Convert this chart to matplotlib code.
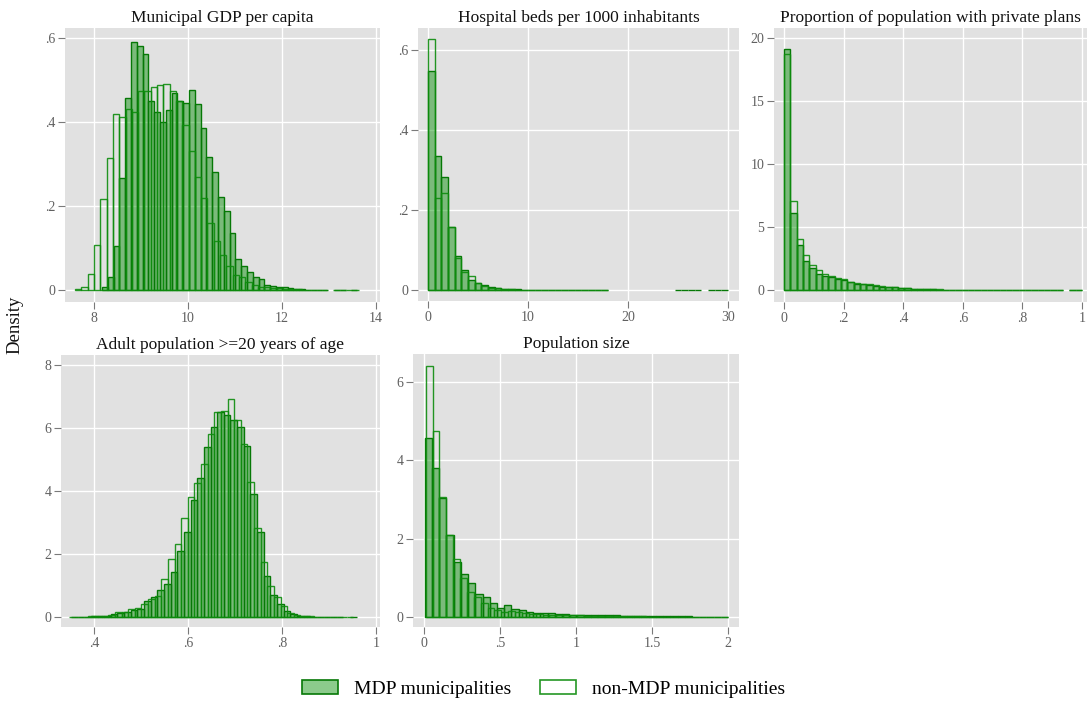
import numpy as np
import matplotlib
matplotlib.use("Agg")
import matplotlib.pyplot as plt
from matplotlib.patches import Patch

plt.rcParams["font.family"] = ["Liberation Serif", "DejaVu Serif"]

nan = np.nan

# ---- histogram densities ----
# each series: (first bin edge, last bin edge), bar heights

# Municipal GDP per capita
gdp_mdp_range = (8.17, 13.60)
gdp_mdp = [0.008, 0.032, 0.105, 0.267, 0.457, 0.590, 0.581, 0.561, 0.450, 0.423,
           0.400, 0.428, 0.470, 0.450, 0.445, 0.477, 0.443, 0.386, 0.316, 0.280,
           0.222, 0.187, 0.135, 0.075, 0.058, 0.044, 0.032, 0.025, 0.013, 0.010,
           0.008, 0.006, 0.004, 0.003, 0.002, 0.001, 0.001, 0.0, 0.0, nan,
           0.0, 0.0, nan, 0.0]
gdp_non_range = (7.60, 13.63)
gdp_non = [0.002, 0.008, 0.037, 0.107, 0.217, 0.315, 0.418, 0.412, 0.430, 0.425,
           0.473, 0.475, 0.483, 0.489, 0.490, 0.475, 0.450, 0.393, 0.331, 0.268,
           0.220, 0.160, 0.117, 0.083, 0.058, 0.036, 0.030, 0.020, 0.012, 0.008,
           0.006, 0.005, 0.004, 0.003, 0.002, 0.002, 0.001, 0.001, 0.0, 0.0,
           nan, 0.0, 0.0, 0.0, 0.0]

# Hospital beds per 1000 inhabitants
beds_mdp_range = (0.0, 30.0)
beds_mdp = [0.548, 0.336, 0.283, 0.158, 0.086, 0.049, 0.024, 0.017, 0.012, 0.007,
            0.004, 0.003, 0.002, 0.0015, 0.001, 0.001, 0.001, 0.001, 0.001, 0.001,
            0.001, 0.0005, 0.0005, 0.0005, 0.0005, 0.0005, 0.0005,
            nan, nan, nan, nan, nan, nan, nan, nan, nan, nan,
            0.0, 0.0, 0.0, 0.0, nan, 0.0, 0.0, 0.0]
beds_non_range = (0.0, 30.0)
beds_non = [0.628, 0.230, 0.243, 0.157, 0.080, 0.045, 0.034, 0.017, 0.009, 0.006,
            0.004, 0.003, 0.002, 0.001, 0.001, 0.001, 0.001, 0.0005, 0.0005, 0.0005,
            0.0005, 0.0005, 0.0005, 0.0005, 0.0005, 0.0005, 0.0005,
            nan, nan, nan, nan, nan, nan, nan, nan, nan, nan,
            nan, nan, nan, nan, nan, nan, nan, nan]

# Proportion of population with private plans
plans_mdp_range = (0.0, 1.0)
plans_mdp = [19.15, 6.11, 3.54, 2.27, 1.75, 1.30, 1.15, 1.00, 0.88, 0.78,
             0.62, 0.50, 0.45, 0.40, 0.35, 0.27, 0.25, 0.20, 0.16, 0.12,
             0.09, 0.07, 0.05, 0.04, 0.03, 0.025, 0.02, 0.015, 0.01, 0.01,
             0.008, 0.006, 0.005, 0.004, 0.003, 0.003, 0.002, 0.002, 0.002, 0.001,
             0.001, 0.001, 0.001, 0.001, nan, 0.0, 0.0]
plans_non_range = (0.0, 1.0)
plans_non = [18.70, 7.04, 4.07, 2.80, 1.96, 1.56, 1.25, 1.08, 0.92, 0.85,
             0.64, 0.52, 0.48, 0.44, 0.38, 0.30, 0.26, 0.21, 0.17, 0.13,
             0.10, 0.08, 0.06, 0.05, 0.04, 0.03, 0.02, 0.02, 0.015, 0.01,
             0.008, 0.006, 0.005, 0.004, 0.003, 0.003, 0.002, 0.002, 0.002, 0.001,
             0.001, 0.001, 0.001, 0.001, nan, 0.0, 0.0]

# Adult population >=20 years of age
adult_mdp_range = (0.351, 0.959)
adult_mdp = [0.01, 0.01, 0.01, 0.02, 0.02, 0.03, 0.08, 0.12, 0.15, 0.22,
             0.25, 0.50, 0.62, 0.85, 1.04, 1.42, 2.10, 2.69, 3.71, 4.40,
             5.41, 6.02, 6.50, 6.42, 6.25, 6.02, 5.43, 3.90, 2.70, 1.31,
             0.70, 0.40, 0.18, 0.08, 0.04, 0.02, 0.01, 0.01, 0.005, 0.005,
             0.005, nan, 0.0]
adult_non_range = (0.346, 0.952)
adult_non = [0.01, 0.01, 0.01, 0.02, 0.02, 0.03, 0.07, 0.15, 0.15, 0.25,
             0.30, 0.40, 0.58, 0.68, 1.20, 1.84, 2.31, 3.13, 3.82, 4.26,
             4.86, 5.80, 6.50, 6.55, 6.91, 6.25, 5.49, 4.30, 2.82, 1.74,
             1.00, 0.62, 0.35, 0.12, 0.06, 0.03, 0.02, 0.01, 0.01, 0.01,
             0.005, 0.005, 0.0]

# Population size
pop_mdp_range = (0.005, 2.0)
pop_mdp = [4.56, 3.80, 3.05, 2.09, 1.40, 1.09, 0.875, 0.58, 0.50, 0.35,
           0.22, 0.30, 0.20, 0.17, 0.13, 0.11, 0.10, 0.10, 0.08, 0.07,
           0.06, 0.06, 0.05, 0.05, 0.05, 0.04, 0.04, 0.03, 0.03, 0.03,
           0.025, 0.02, 0.02, 0.02, 0.015, 0.015, 0.015, 0.01, 0.01, 0.01,
           0.01, 0.01]
pop_non_range = (0.011, 2.0)
pop_non = [6.42, 4.75, 3.07, 2.10, 1.48, 0.99, 0.63, 0.52, 0.36, 0.22,
           0.18, 0.13, 0.16, 0.12, 0.10, 0.08, 0.07, 0.06, 0.06, 0.05,
           0.04, 0.04, 0.04, 0.03, 0.03, 0.03, 0.02, 0.02, 0.02, 0.02,
           0.015, 0.015, 0.01, 0.01, 0.01, 0.01, 0.01, 0.01, 0.008, 0.008,
           0.008, 0.005, 0.005, 0.005]

titles = ["Municipal GDP per capita", "Hospital beds per 1000 inhabitants",
          "Proportion of population with private plans",
          "Adult population >=20 years of age", "Population size"]
legend_labels = ["MDP municipalities", "non-MDP municipalities"]

# ---- layout (pixel boxes: left, right, top, bottom) ----
W, H = 1087, 702
panels = [
    dict(box=(65, 380, 28, 302), xlim=(7.383, 14.085), ylim=(-0.0286, 0.624),
         xt=[8, 10, 12, 14], yt=[0, 0.2, 0.4, 0.6],
         data=(gdp_mdp_range, gdp_mdp, gdp_non_range, gdp_non)),
    dict(box=(418, 739, 28, 301), xlim=(-1.0, 31.1), ylim=(-0.0275, 0.655),
         xt=[0, 10, 20, 30], yt=[0, 0.2, 0.4, 0.6],
         data=(beds_mdp_range, beds_mdp, beds_non_range, beds_non)),
    dict(box=(774, 1087, 28, 302), xlim=(-0.0336, 1.0168), ylim=(-0.952, 20.79),
         xt=[0, 0.2, 0.4, 0.6, 0.8, 1], yt=[0, 5, 10, 15, 20],
         data=(plans_mdp_range, plans_mdp, plans_non_range, plans_non)),
    dict(box=(61, 380, 355, 627), xlim=(0.3298, 1.0085), ylim=(-0.317, 8.317),
         xt=[0.4, 0.6, 0.8, 1], yt=[0, 2, 4, 6, 8],
         data=(adult_mdp_range, adult_mdp, adult_non_range, adult_non)),
    dict(box=(413, 739, 354, 627), xlim=(-0.0724, 2.072), ylim=(-0.255, 6.714),
         xt=[0, 0.5, 1, 1.5, 2], yt=[0, 2, 4, 6],
         data=(pop_mdp_range, pop_mdp, pop_non_range, pop_non)),
]

mdp_face = (0.0, 0.55, 0.0, 0.45)
mdp_edge = "#067806"
non_edge = (0.05, 0.55, 0.05, 0.9)
plot_bg = "#e1e1e1"


def stata_label(v):
    s = "{:g}".format(v)
    if s.startswith("0."):
        s = s[1:]
    return s


def draw_hist(ax, rng, vals, **kw):
    edges = np.linspace(rng[0], rng[1], len(vals) + 1)
    ax.bar(edges[:-1], vals, width=np.diff(edges), align="edge", **kw)


fig = plt.figure(figsize=(W / 100, H / 100), dpi=100)

for p, title in zip(panels, titles):
    l, r, t, b = p["box"]
    ax = fig.add_axes([l / W, 1 - b / H, (r - l) / W, (b - t) / H])
    ax.set_facecolor(plot_bg)
    for s in ax.spines.values():
        s.set_visible(False)
    ax.set_axisbelow(True)
    ax.grid(True, color="white", lw=1.0)

    r1, v1, r2, v2 = p["data"]
    draw_hist(ax, r1, v1, facecolor=mdp_face, edgecolor=mdp_edge, linewidth=1.0)
    draw_hist(ax, r2, v2, facecolor="none", edgecolor=non_edge, linewidth=1.0)

    ax.set_xlim(p["xlim"])
    ax.set_ylim(p["ylim"])
    ax.set_xticks(p["xt"])
    ax.set_yticks(p["yt"])
    ax.set_xticklabels([stata_label(v) for v in p["xt"]])
    ax.set_yticklabels([stata_label(v) for v in p["yt"]])
    ax.tick_params(direction="out", length=5, width=0.8, color="#7a7a7a",
                   labelcolor="#606060", labelsize=10, pad=2)
    ax.set_title(title, fontsize=12.5, color="#111111", pad=4)

fig.text(15 / W, 1 - 325 / H, "Density", rotation=90, fontsize=13.5,
         ha="center", va="center", color="#111111")

handles = [Patch(facecolor=mdp_face, edgecolor=mdp_edge, linewidth=1.2),
           Patch(facecolor="white", edgecolor=non_edge, linewidth=1.2)]
fig.legend(handles, legend_labels, loc="center", ncol=2, frameon=False,
           bbox_to_anchor=(0.5, 1 - 689 / H), fontsize=14,
           handlelength=1.85, handleheight=0.7, handletextpad=0.8,
           columnspacing=1.5)

fig.savefig("out.png", dpi=100)
